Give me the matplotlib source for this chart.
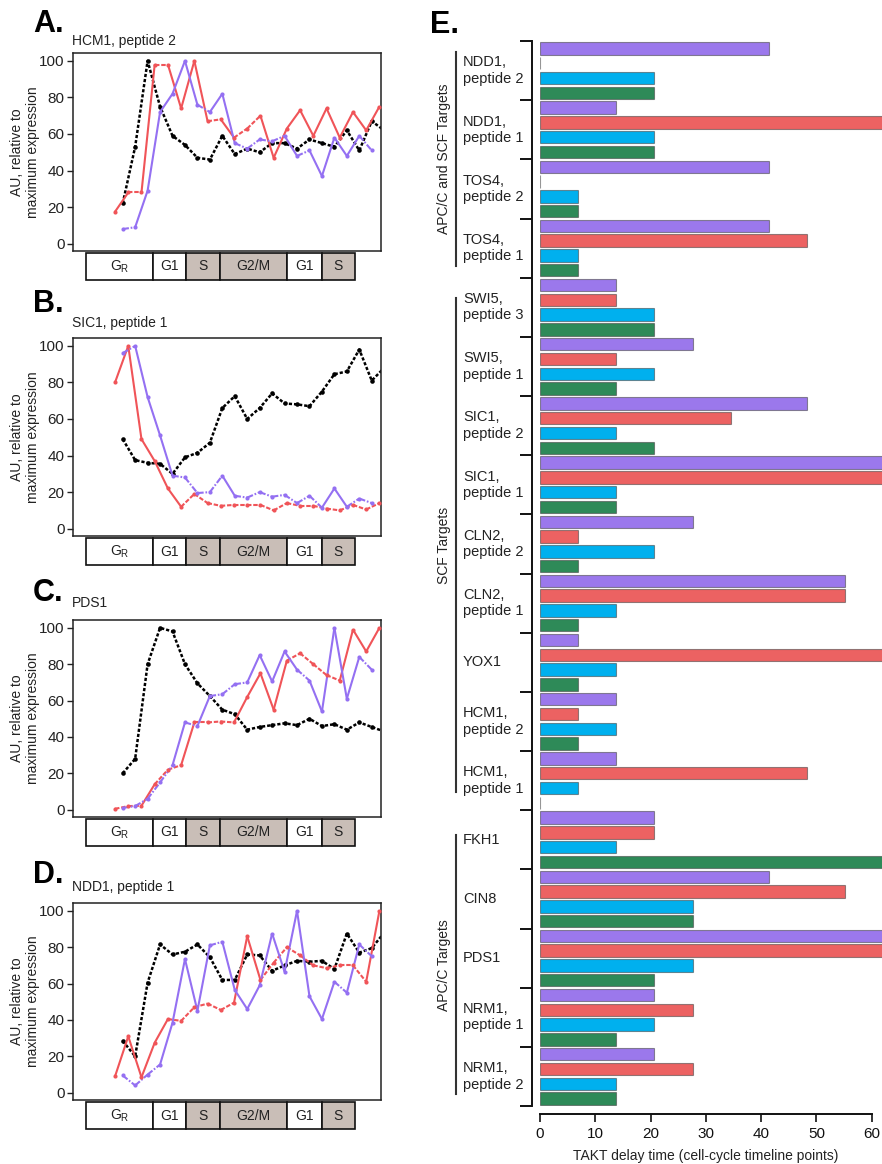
import numpy as np
import matplotlib
matplotlib.use('Agg')
import matplotlib.pyplot as plt
from matplotlib.patches import Rectangle

plt.rcParams['font.family'] = ['Liberation Sans', 'DejaVu Sans']
plt.rcParams['mathtext.default'] = 'regular'
plt.rcParams['lines.scale_dashes'] = False

W, H = 882, 1164

# ---------------- panels A-D: expression profiles ----------------
titles = ['HCM1, peptide 2', 'SIC1, peptide 1', 'PDS1', 'NDD1, peptide 1']
letters = ['A.', 'B.', 'C.', 'D.']

red_a = [17.5, 28, 28, 98, 98, 74, 100, 67, 68, 58, 63, 70, 47, 63, 73, 59, 74, 58, 72, 62, 75]
purple_a = [8, 9, 29, 72, 82, 100, 76, 72, 82, 55, 52, 57, 56, 59, 48, 51, 37, 58, 48, 59, 51]
black_a = [22, 53, 100, 75, 59, 54, 47, 46, 59, 49, 52, 50, 55, 55, 52, 57, 55, 53, 62, 51, 67, 62]

red_b = [80, 100, 49, 37, 22, 12, 19, 14, 12.5, 13, 13, 13, 10, 14, 12.5, 12.5, 11, 10, 13, 10.5, 14]
purple_b = [96, 100, 72, 51, 29, 28, 19.5, 20, 29, 18, 17, 20, 17.5, 18.5, 14, 18, 11.5, 22, 12, 16.5, 14]
black_b = [49, 37.5, 36, 35.5, 30, 39, 41.5, 47, 66, 72.5, 60, 66, 74, 68.5, 68, 67, 75, 84.5, 86, 98, 81, 88]

red_c = [0.5, 2, 2.2, 14, 22, 24.5, 48, 48, 48.5, 48, 62, 75, 55, 82, 86, 80, 74, 71, 99, 87, 100]
purple_c = [1, 2, 6, 15, 24.5, 48, 46, 62.5, 63.5, 69, 70, 85, 70.5, 87, 77, 71, 54, 100, 61, 84, 77]
black_c = [20, 28, 80, 100, 98, 80, 69.5, 62.5, 55, 52.5, 44, 45.5, 46.5, 47.5, 46.5, 50, 46, 47, 44, 48, 45.5, 43]

red_d = [9, 31, 8.5, 27.5, 40.5, 39.5, 47, 49, 45.5, 49.5, 86, 62, 71.5, 80, 75.5, 70, 68.5, 70, 70, 61, 100]
purple_d = [9.5, 4, 10, 15.5, 38.5, 73.5, 45, 81, 83, 56.5, 46, 59, 87.5, 66.5, 100, 53, 40.5, 61, 55, 81.5, 75]
black_d = [28.5, 20, 60.5, 81.5, 76, 77.5, 81.5, 74.5, 62, 62, 76, 75.5, 67, 70, 72.5, 72, 72.5, 68, 87.5, 77, 79.5, 88]

red_series = [red_a, red_b, red_c, red_d]
purple_series = [purple_a, purple_b, purple_c, purple_d]
black_series = [black_a, black_b, black_c, black_d]

# timeline positions of the samples (red sampled slightly faster)
red_t = np.arange(21)
other_t = 0.58 + 0.942 * np.arange(22)

phase_names = ['G$_R$', 'G1', 'S', 'G2/M', 'G1', 'S']
phase_edges = [-2.19, 2.85, 5.37, 7.94, 13.03, 15.63, 18.17]
phase_shaded = [False, False, True, True, False, True]

# ---------------- panel E: TAKT delay times ----------------
targets = ['NDD1,\npeptide 2', 'NDD1,\npeptide 1', 'TOS4,\npeptide 2', 'TOS4,\npeptide 1',
           'SWI5,\npeptide 3', 'SWI5,\npeptide 1', 'SIC1,\npeptide 2', 'SIC1,\npeptide 1',
           'CLN2,\npeptide 2', 'CLN2,\npeptide 1', 'YOX1', 'HCM1,\npeptide 2', 'HCM1,\npeptide 1',
           'FKH1', 'CIN8', 'PDS1', 'NRM1,\npeptide 1', 'NRM1,\npeptide 2']
purple_delay = [41.4, 13.8, 41.4, 41.4, 13.8, 27.6, 48.3, 69, 27.6, 55.2, 6.9, 13.8, 13.8, 20.7, 41.4, 69, 20.7, 20.7]
red_delay = [0, 69, 0, 48.3, 13.8, 13.8, 34.5, 69, 6.9, 55.2, 69, 6.9, 48.3, 20.7, 55.2, 69, 27.6, 27.6]
blue_delay = [20.7, 20.7, 6.9, 6.9, 20.7, 20.7, 13.8, 13.8, 20.7, 13.8, 13.8, 13.8, 6.9, 13.8, 27.6, 27.6, 20.7, 13.8]
green_delay = [20.7, 20.7, 6.9, 6.9, 20.7, 13.8, 20.7, 13.8, 6.9, 6.9, 6.9, 6.9, 0, 69, 27.6, 20.7, 13.8, 13.8]

group_names = ['APC/C and SCF Targets', 'SCF Targets', 'APC/C Targets']
group_spans = [(0.24, 14.71), (16.88, 50.28), (53.19, 70.70)]

RED, PURPLE = '#F05458', '#9470F2'
BAR_COLORS = ['#9B78EC', '#EC6262', '#00B0EE', '#2E8A58']


def box(x0, y0, x1, y1):
    return [x0 / W, 1 - y1 / H, (x1 - x0) / W, (y1 - y0) / H]


def draw_series(ax, t, v, color, dash):
    for i in range(len(v) - 1):
        ls = '-' if abs(v[i + 1] - v[i]) >= 10 else (0, dash)
        ax.plot(t[i:i + 2], v[i:i + 2], color=color, lw=1.5, ls=ls,
                solid_capstyle='butt', dash_capstyle='butt', zorder=3)
    ax.plot(t[:len(v)], v, 'o', color=color, ms=3, mec='none', zorder=4)


fig = plt.figure(figsize=(W / 100, H / 100), dpi=100)

tops = [53, 338, 620, 903]
bottoms = [251, 536, 817, 1100]
letter_y = [24, 304, 593, 875]
title_y = [41, 323, 603, 887]

for p in range(4):
    ax = fig.add_axes(box(73, tops[p], 381, bottoms[p]))
    ax.plot(other_t[:len(black_series[p])], black_series[p], color='black', lw=1.8,
            ls=(0, (2.3, 1.4)), zorder=2)
    ax.plot(other_t[:len(black_series[p])], black_series[p], 'o', color='black', ms=3.3,
            mec='none', zorder=2)
    draw_series(ax, red_t, red_series[p], RED, (3.2, 1.3))
    draw_series(ax, other_t, purple_series[p], PURPLE, (4.5, 1.3, 1.2, 1.3))
    ax.set_xlim(-3.18, 20.12)
    ax.set_ylim(-4, 104.3)
    ax.set_xticks([])
    ax.set_yticks([0, 20, 40, 60, 80, 100])
    ax.tick_params(axis='y', length=4, width=1, pad=2, labelsize=11, colors='#222222')
    for s in ax.spines.values():
        s.set_linewidth(1.1)
        s.set_color('#222222')

    # cell-cycle phase bar
    pax = fig.add_axes(box(73, bottoms[p] + 1, 381, bottoms[p] + 30))
    pax.set_xlim(-3.18, 20.12)
    pax.set_ylim(0, 1)
    pax.axis('off')
    for j, name in enumerate(phase_names):
        x0, x1 = phase_edges[j], phase_edges[j + 1]
        pax.add_patch(Rectangle((x0, 0.03), x1 - x0, 0.94,
                                facecolor='#C9BEB7' if phase_shaded[j] else 'white',
                                edgecolor='#111111', lw=1.2))
        pax.text((x0 + x1) / 2, 0.5, name, ha='center', va='center', fontsize=10,
                 color='#222222')

    fig.text(33 / W, 1 - letter_y[p] / H, letters[p], fontsize=22, fontweight='bold',
             ha='left', va='center')
    fig.text(72 / W, 1 - title_y[p] / H, titles[p], fontsize=10, ha='left', va='center',
             color='#222222')
    fig.text(25 / W, 1 - (tops[p] + bottoms[p]) / 2 / H,
             'AU, relative to\nmaximum expression', rotation=90, fontsize=10,
             ha='center', va='center', multialignment='center', color='#222222')

# ---------------- panel E ----------------
ax = fig.add_axes(box(540, 41, 882, 1106))
for j, vals in enumerate([purple_delay, red_delay, blue_delay, green_delay]):
    pos = [4 * g + j for g in range(len(targets))]
    ax.barh(pos, vals, height=0.84, color=BAR_COLORS[j],
            edgecolor=(0.25, 0.25, 0.25, 0.55), lw=0.8)
ax.set_xlim(0, 61.86)
ax.set_ylim(4 * len(targets) - 0.5, -0.5)
ax.spines['top'].set_visible(False)
ax.spines['right'].set_visible(False)
ax.spines['left'].set_position(('outward', 6))
ax.spines['bottom'].set_position(('outward', 6))
ax.spines['bottom'].set_bounds(0, 60)
for s in ['left', 'bottom']:
    ax.spines[s].set_linewidth(1.4)
    ax.spines[s].set_color('#111111')
ax.set_yticks([4 * g - 0.5 for g in range(len(targets) + 1)])
ax.set_yticklabels([])
ax.tick_params(axis='y', length=9, width=1.4, colors='#111111')
ax.set_xticks([0, 10, 20, 30, 40, 50, 60])
ax.tick_params(axis='x', length=6, width=1.2, pad=3, labelsize=11, colors='#111111')
ax.set_xlabel('TAKT delay time (cell-cycle timeline points)', fontsize=10, labelpad=6,
              color='#222222')
ax.xaxis.label.set_x(30 / 61.86)

yt = ax.get_yaxis_transform()
for g, name in enumerate(targets):
    ax.text(-0.225, 4 * g + 1.5, name, transform=yt, ha='left', va='center', fontsize=10.5,
            color='#222222')
for name, (y0, y1) in zip(group_names, group_spans):
    ax.plot([-0.2456, -0.2456], [y0, y1], transform=yt, color='#333333', lw=1.5,
            clip_on=False)
    ax.text(-0.281, (y0 + y1) / 2, name, transform=yt, rotation=90, ha='center',
            va='center', fontsize=10, color='#222222')

fig.text(430 / W, 1 - 25 / H, 'E.', fontsize=22, fontweight='bold', ha='left', va='center')

fig.savefig('out.png', dpi=100)
